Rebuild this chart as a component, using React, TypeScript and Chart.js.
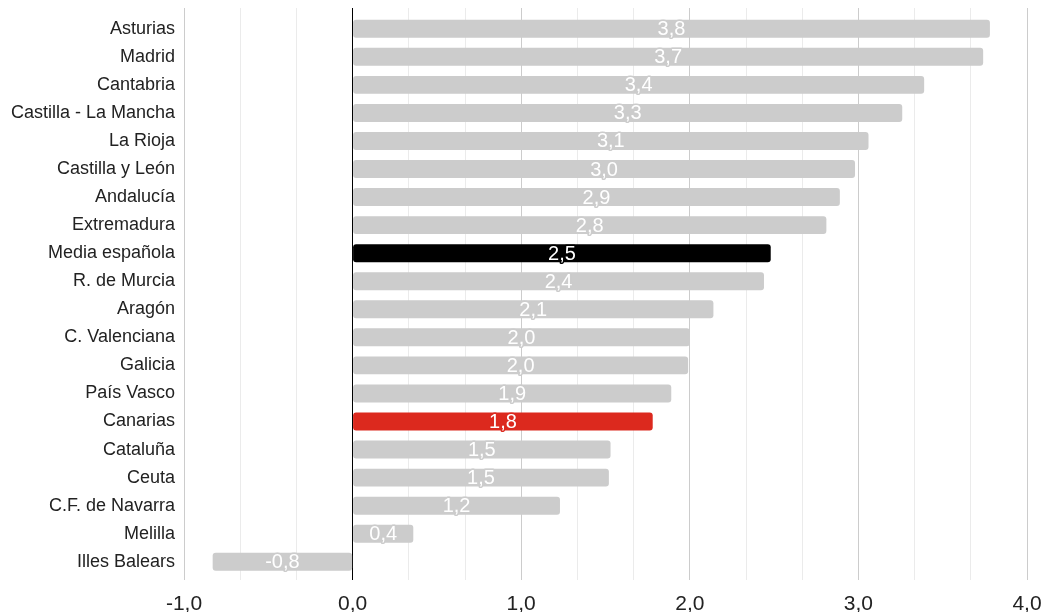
import React, { useEffect, useRef } from "react";
import { Chart, registerables } from "chart.js";

Chart.register(...registerables);

const categories = [
  "Asturias",
  "Madrid",
  "Cantabria",
  "Castilla - La Mancha",
  "La Rioja",
  "Castilla y León",
  "Andalucía",
  "Extremadura",
  "Media española",
  "R. de Murcia",
  "Aragón",
  "C. Valenciana",
  "Galicia",
  "País Vasco",
  "Canarias",
  "Cataluña",
  "Ceuta",
  "C.F. de Navarra",
  "Melilla",
  "Illes Balears",
];

const values = [
  3.78, 3.74, 3.39, 3.26, 3.06, 2.98, 2.89, 2.81, 2.48, 2.44, 2.14, 2.0, 1.99,
  1.89, 1.78, 1.53, 1.52, 1.23, 0.36, -0.83,
];

const highlight: Record<string, string> = {
  "Media española": "#000000",
  Canarias: "#dc291e",
};
const defaultColor = "#cccccc";

const majorTicks = [-1, 0, 1, 2, 3, 4];
const minorPerMajor = 3;

const FONT = "Arial, 'Liberation Sans', sans-serif";

const fmt = (v: number) => v.toFixed(1).replace(".", ",");

export default function App() {
  const ref = useRef<HTMLCanvasElement | null>(null);

  useEffect(() => {
    if (!ref.current) return;
    const colors = categories.map((c) => highlight[c] || defaultColor);

    const gridValues: number[] = [];
    majorTicks.forEach((m, i) => {
      gridValues.push(m);
      if (i < majorTicks.length - 1) {
        for (let k = 1; k < minorPerMajor; k++) gridValues.push(m + k / minorPerMajor);
      }
    });

    const labelPlugin = {
      id: "barLabels",
      afterDatasetsDraw(chart: any) {
        const ctx = chart.ctx;
        const meta = chart.getDatasetMeta(0);
        ctx.save();
        ctx.font = `20px ${FONT}`;
        ctx.textAlign = "center";
        ctx.textBaseline = "middle";
        ctx.lineJoin = "round";
        meta.data.forEach((bar: any, i: number) => {
          const { x, y, base } = bar.getProps(["x", "y", "base"], true);
          const cx = (x + base) / 2;
          const txt = fmt(values[i]);
          ctx.lineWidth = 3;
          ctx.strokeStyle = colors[i];
          ctx.strokeText(txt, cx, y + 1);
          ctx.fillStyle = "#ffffff";
          ctx.fillText(txt, cx, y + 1);
        });
        ctx.restore();
      },
    };

    const chart = new Chart(ref.current, {
      type: "bar",
      data: {
        datasets: [
          {
            data: values.map((v, i) => ({ x: v, y: i })),
            backgroundColor: colors,
            borderRadius: 3,
            borderSkipped: false,
            categoryPercentage: 1,
            barPercentage: 0.64,
          },
        ],
      },
      options: {
        indexAxis: "y",
        animation: false,
        responsive: false,
        maintainAspectRatio: false,
        layout: { padding: { top: 8, right: 0, left: 0, bottom: 0 } },
        plugins: {
          legend: { display: false },
          tooltip: { enabled: false },
        },
        scales: {
          x: {
            type: "linear",
            min: -1,
            max: 4,
            afterBuildTicks: (s: any) => {
              s.ticks = gridValues.map((v) => ({ value: v }));
            },
            afterFit: (s: any) => {
              s.height = 32;
              s.paddingRight = 18;
            },
            border: { display: false },
            grid: {
              drawTicks: false,
              color: (c: any) => {
                const v = c.tick.value;
                if (Math.abs(v) < 1e-9) return "#000000";
                if (Math.abs(v - Math.round(v)) < 1e-9) return "#cccccc";
                return "#ebebeb";
              },
            },
            ticks: {
              autoSkip: false,
              maxRotation: 0,
              padding: 12,
              color: "#222222",
              font: { family: FONT, size: 21 },
              callback: (v: any) => {
                const n = Number(v);
                if (Math.abs(n - Math.round(n)) < 1e-9) return fmt(Math.round(n));
                return "";
              },
            },
          },
          y: {
            type: "linear",
            reverse: true,
            offset: false,
            min: -0.74,
            max: 19.65,
            afterBuildTicks: (s: any) => {
              s.ticks = categories.map((_, i) => ({ value: i }));
            },
            afterFit: (s: any) => {
              s.width = 184;
              s.paddingTop = 0;
              s.paddingBottom = 0;
            },
            border: { display: false },
            grid: { display: false, drawTicks: false, offset: false },
            ticks: {
              autoSkip: false,
              padding: 9,
              color: "#222222",
              font: { family: FONT, size: 18 },
              callback: (v: any) => categories[Number(v)] ?? "",
            },
          },
        },
      },
      plugins: [labelPlugin],
    });
    return () => chart.destroy();
  }, []);

  return (
    <div style={{ position: "fixed", left: 0, top: 0, width: 1045, height: 612, background: "#fff" }}>
      <canvas ref={ref} width={1045} height={612} style={{ width: 1045, height: 612, display: "block" }} />
    </div>
  );
}
